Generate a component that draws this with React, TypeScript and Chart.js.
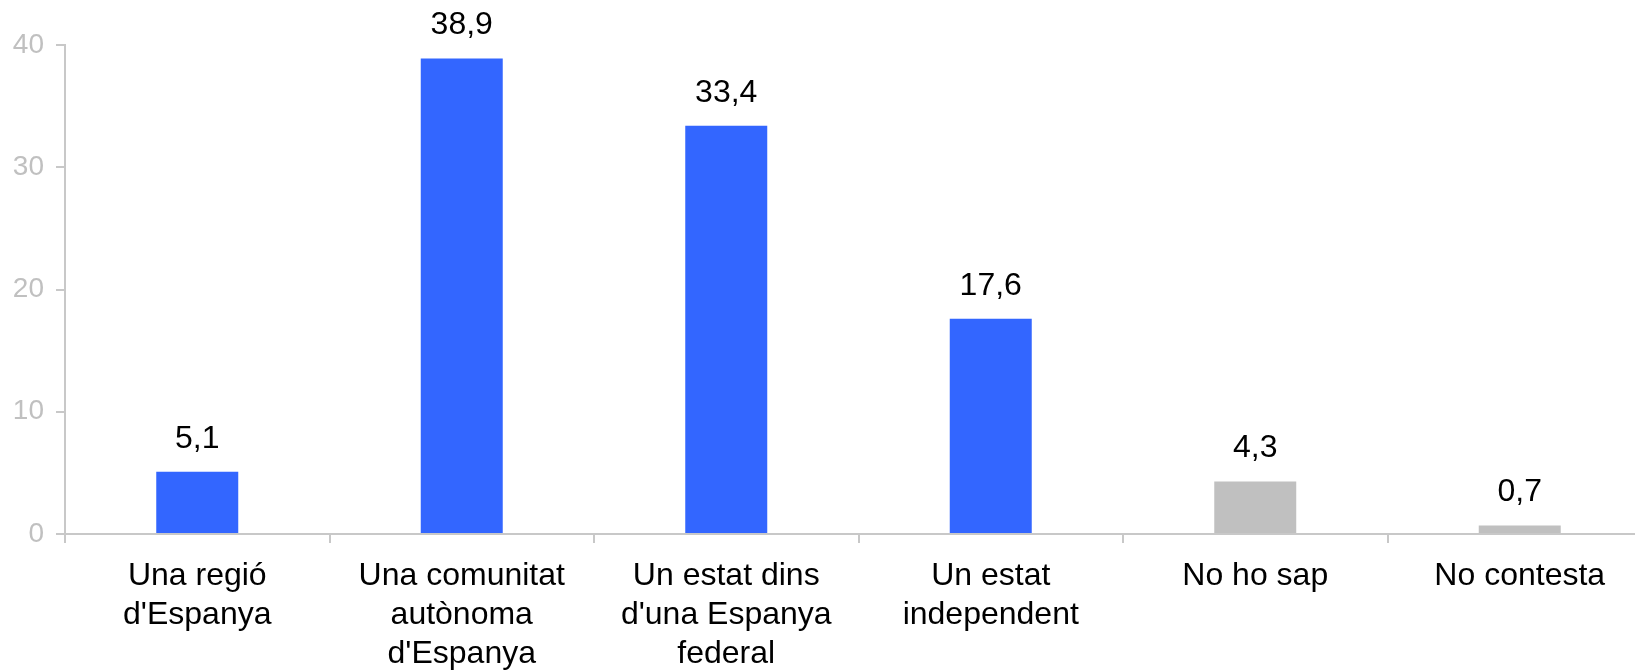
import React, { useEffect, useRef } from "react";
import { Chart, registerables } from "chart.js";

Chart.register(...registerables);

const categories: string[][] = [
  ["Una regió", "d'Espanya"],
  ["Una comunitat", "autònoma", "d'Espanya"],
  ["Un estat dins", "d'una Espanya", "federal"],
  ["Un estat", "independent"],
  ["No ho sap"],
  ["No contesta"],
];
const values: number[] = [5.1, 38.9, 33.4, 17.6, 4.3, 0.7];
const barColors: string[] = ["#3366FF", "#3366FF", "#3366FF", "#3366FF", "#C0C0C0", "#C0C0C0"];
const yMin = 0;
const yMax = 40;
const yStep = 10;

const FONT = "'Liberation Sans', Arial, sans-serif";
const AXIS_COLOR = "#c8c8c8";

const valueLabelPlugin = {
  id: "valueLabels",
  afterDatasetsDraw(chart: any) {
    const ctx = chart.ctx;
    const meta = chart.getDatasetMeta(0);
    ctx.save();
    ctx.font = `32px ${FONT}`;
    ctx.fillStyle = "#000";
    ctx.textAlign = "center";
    ctx.textBaseline = "alphabetic";
    meta.data.forEach((bar: any, i: number) => {
      const v = values[i];
      ctx.fillText(v.toFixed(1).replace(".", ","), bar.x, bar.y - 24);
    });
    ctx.restore();
  },
};

export default function App() {
  const canvasRef = useRef<HTMLCanvasElement | null>(null);

  useEffect(() => {
    if (!canvasRef.current) return;
    const chart = new Chart(canvasRef.current, {
      type: "bar",
      data: {
        labels: categories,
        datasets: [
          {
            data: values,
            backgroundColor: barColors,
            borderWidth: 0,
            barPercentage: 0.31,
            categoryPercentage: 1,
          },
        ],
      },
      options: {
        responsive: false,
        animation: false,
        layout: { padding: { top: 45, left: 0, right: 0, bottom: 0 } },
        plugins: {
          legend: { display: false },
          tooltip: { enabled: false },
        },
        scales: {
          x: {
            grid: {
              display: true,
              drawOnChartArea: false,
              drawTicks: true,
              tickLength: 9,
              color: AXIS_COLOR,
              lineWidth: 2,
              offset: true,
            },
            border: { display: true, color: AXIS_COLOR, width: 2 },
            ticks: {
              color: "#000",
              font: { family: FONT, size: 32, lineHeight: 1.22 },
              padding: 14,
              maxRotation: 0,
              minRotation: 0,
              autoSkip: false,
            },
            afterFit: (s: any) => {
              s.height = 138;
            },
          },
          y: {
            min: yMin,
            max: yMax,
            grid: {
              display: true,
              drawOnChartArea: false,
              drawTicks: true,
              tickLength: 9,
              color: AXIS_COLOR,
              lineWidth: 2,
            },
            border: { display: true, color: AXIS_COLOR, width: 2 },
            ticks: {
              stepSize: yStep,
              color: "#c0c0c0",
              font: { family: FONT, size: 28 },
              padding: 12,
            },
            afterFit: (s: any) => {
              s.width = 65;
            },
          },
        },
      },
      plugins: [valueLabelPlugin],
    });
    return () => chart.destroy();
  }, []);

  return (
    <div
      style={{
        position: "absolute",
        left: 0,
        top: 0,
        width: 1635,
        height: 672,
        overflow: "hidden",
        background: "#fff",
      }}
    >
      <canvas ref={canvasRef} width={1652} height={672} style={{ display: "block" }} />
    </div>
  );
}
